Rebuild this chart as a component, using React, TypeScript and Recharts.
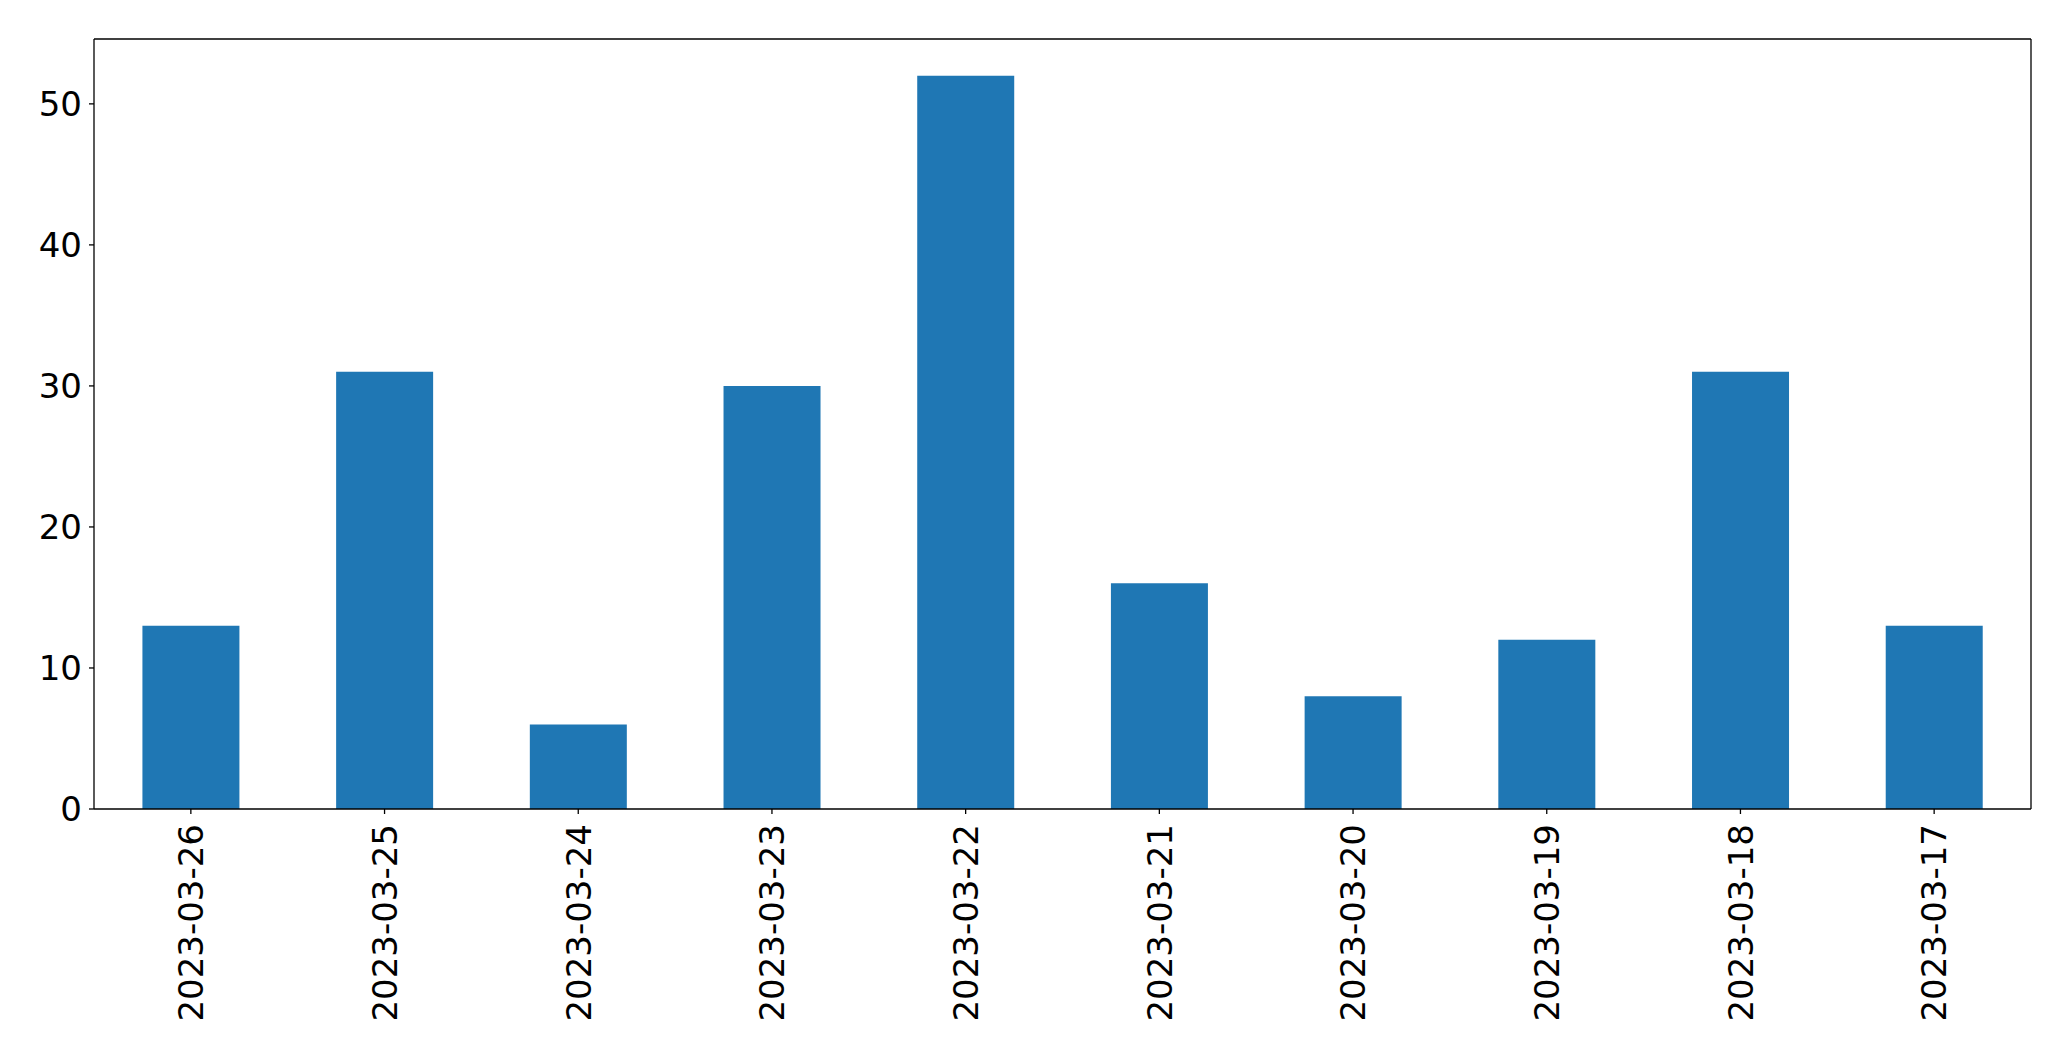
import React from "react";
import { BarChart, Bar, XAxis, YAxis } from "recharts";

const categories = [
  "2023-03-26",
  "2023-03-25",
  "2023-03-24",
  "2023-03-23",
  "2023-03-22",
  "2023-03-21",
  "2023-03-20",
  "2023-03-19",
  "2023-03-18",
  "2023-03-17",
];
const values = [13, 31, 6, 30, 52, 16, 8, 12, 31, 13];
const yTicks = [0, 10, 20, 30, 40, 50];

const data = categories.map((c, i) => ({ date: c, value: values[i] }));

const FONT = "'DejaVu Sans', sans-serif";
const FS = 34;

const XTick = (props: any) => {
  const { x, y, payload } = props;
  return (
    <g transform={`translate(${x},${y})`}>
      <text
        x={0}
        y={0}
        dy="0.36em"
        transform="rotate(-90)"
        textAnchor="end"
        fontFamily={FONT}
        fontSize={FS}
        fill="#000"
      >
        {payload.value}
      </text>
    </g>
  );
};

export default function App() {
  return (
    <div style={{ position: "absolute", left: 0, top: 0, background: "#fff" }}>
      <BarChart
        width={2071}
        height={1061}
        data={data}
        margin={{ top: 38, right: 39, bottom: 0, left: 0 }}
        barCategoryGap="25%"
      >
        <XAxis
          dataKey="date"
          height={252}
          tick={<XTick />}
          tickSize={5}
          tickMargin={10}
          interval={0}
          axisLine={{ stroke: "#000", strokeWidth: 1.3 }}
          tickLine={{ stroke: "#000", strokeWidth: 1.3 }}
        />
        <XAxis
          xAxisId="top"
          dataKey="date"
          orientation="top"
          height={1}
          tick={false}
          tickLine={false}
          axisLine={{ stroke: "#000", strokeWidth: 1.3 }}
        />
        <YAxis
          width={94}
          domain={[0, 54.6]}
          ticks={yTicks}
          tickSize={5}
          tickMargin={7}
          allowDataOverflow
          axisLine={{ stroke: "#000", strokeWidth: 1.3 }}
          tickLine={{ stroke: "#000", strokeWidth: 1.3 }}
          tick={{ fontFamily: FONT, fontSize: FS, fill: "#000" }}
        />
        <YAxis
          yAxisId="right"
          orientation="right"
          width={1}
          domain={[0, 54.6]}
          tick={false}
          tickLine={false}
          axisLine={{ stroke: "#000", strokeWidth: 1.3 }}
        />
        <Bar dataKey="value" fill="#1f77b4" isAnimationActive={false} />
      </BarChart>
    </div>
  );
}
